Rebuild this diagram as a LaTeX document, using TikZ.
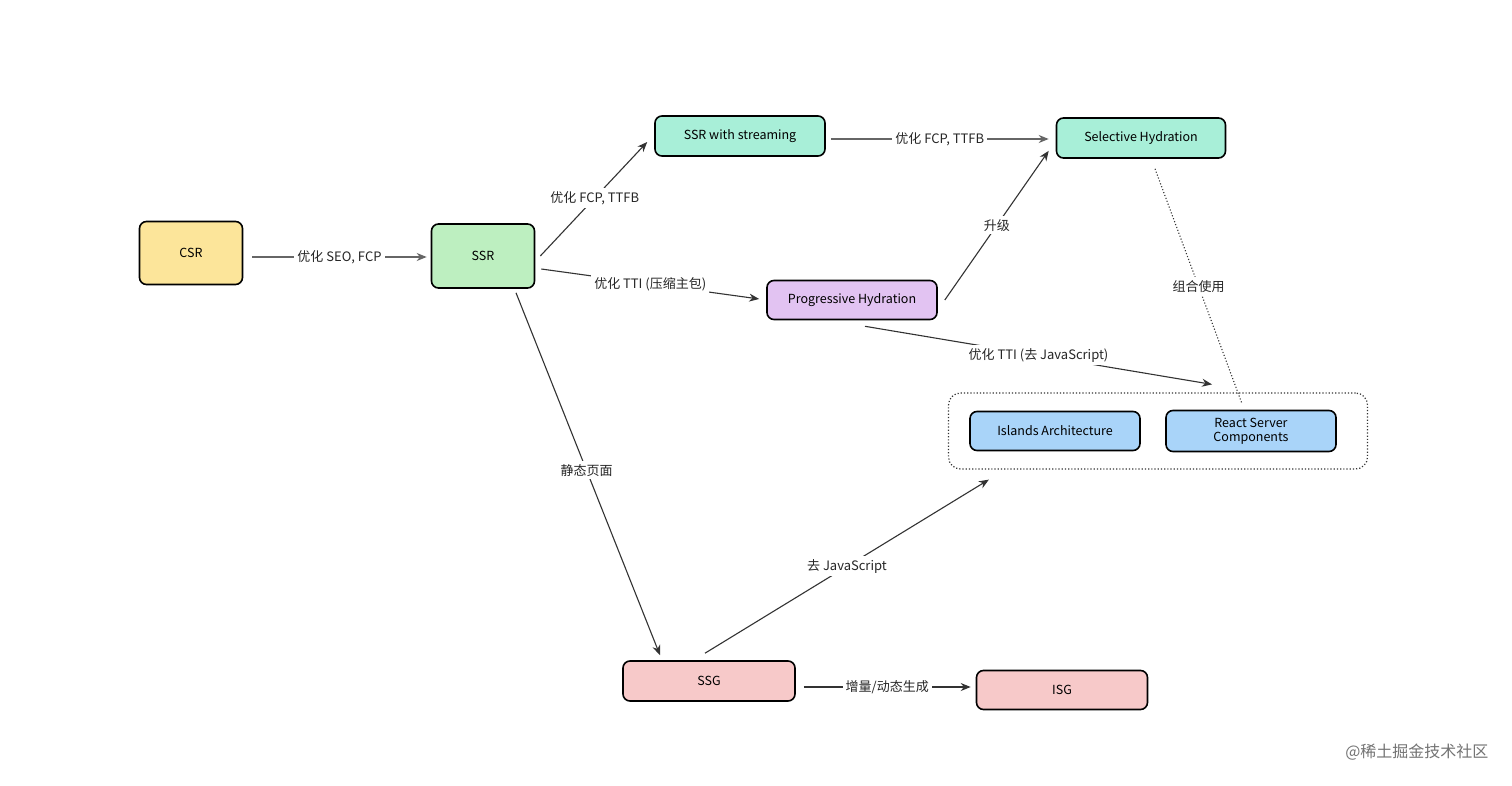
\documentclass[tikz,border=0pt]{standalone}
\usepackage{fontspec}
\setmainfont{Noto Sans CJK SC}
\usetikzlibrary{arrows.meta,calc}
\definecolor{cYellow}{HTML}{FCE59A}
\definecolor{cGreen}{HTML}{BDEFC0}
\definecolor{cTeal}{HTML}{A8EFD8}
\definecolor{cPurple}{HTML}{E2C3F2}
\definecolor{cBlue}{HTML}{A9D4F9}
\definecolor{cPink}{HTML}{F7C9C9}
\definecolor{cLine}{HTML}{333333}
\tikzset{
  box/.style={draw=black, line width=1.6pt, rounded corners=7pt, inner sep=0pt,
    font=\fontsize{12.5}{14}\selectfont, align=center},
  arr/.style={draw=cLine, line width=1.1pt, -{Stealth[length=10pt,width=8pt]}},
  garr/.style={draw=gray!80!black, line width=1.6pt, -{Stealth[length=10pt,width=8pt]}},
  lbl/.style={fill=white, inner sep=3pt, font=\fontsize{13}{15}\selectfont, text=black!85},
}
\begin{document}
\begin{tikzpicture}[x=1pt,y=-1pt]
\useasboundingbox[fill=white] (0,0) rectangle (1512,786);

\node[box, fill=cYellow, minimum width=103pt, minimum height=63pt] (csr) at (191,253) {CSR};
\node[box, fill=cGreen, minimum width=103pt, minimum height=64pt] (ssr) at (483,256) {SSR};
\node[box, fill=cTeal, minimum width=170pt, minimum height=40pt] (stream) at (740,136) {SSR with streaming};
\node[box, fill=cTeal, minimum width=169pt, minimum height=40pt] (sel) at (1141,138) {Selective Hydration};
\node[box, fill=cPurple, minimum width=170pt, minimum height=39pt] (prog) at (852,300) {Progressive Hydration};
\node[draw=black!80, dotted, line width=1.2pt, rounded corners=12pt, minimum width=419pt, minimum height=76pt] (grp) at (1158,431) {};
\node[box, fill=cBlue, minimum width=170pt, minimum height=39pt] (isl) at (1055,431) {Islands Architecture};
\node[box, fill=cBlue, minimum width=170pt, minimum height=41pt] (rsc) at (1251,431) {React Server\\Components};
\node[box, fill=cPink, minimum width=172pt, minimum height=40pt] (ssg) at (709,681) {SSG};
\node[box, fill=cPink, minimum width=171pt, minimum height=39pt] (isg) at (1062,690) {ISG};

% edges
\draw[garr] ($(csr.east)+(9,4)$) -- ($(ssr.west)+(-4,1)$)
  node[lbl, pos=0.5] {优化 SEO, FCP};
\draw[arr] ($(ssr.east)+(5,0)$) -- ($(stream.west)+(-7,6)$)
  node[lbl, pos=0.51] {优化 FCP, TTFB};
\draw[garr] ($(stream.east)+(5,3)$) -- ($(sel.west)+(-7,1)$)
  node[lbl, pos=0.5] {优化 FCP, TTFB};
\draw[arr] ($(ssr.east)+(6,13)$) -- ($(prog.west)+(-7,-1)$)
  node[lbl, pos=0.5] {优化 TTI (压缩主包)};
\draw[arr] ($(prog.east)+(7,0)$) -- ($(sel.south west)+(-7,-8)$)
  node[lbl, pos=0.5] {升级};
\draw[arr] ($(prog.south)+(13,6)$) -- ($(grp.north)+(54,-8)$)
  node[lbl, pos=0.5] {优化 TTI (去 JavaScript)};
\draw[cLine, dotted, line width=1.1pt] ($(sel.south)+(14,10)$) -- ($(rsc.north)+(-9,-6)$)
  node[lbl, pos=0.5] {组合使用};
\draw[arr] ($(ssr.south)+(33,4)$) -- ($(ssg.north)+(-49,-5)$)
  node[lbl, pos=0.49] {静态页面};
\draw[arr] ($(ssg.north)+(-4,-7)$) -- ($(grp.south west)+(41,10)$)
  node[lbl, pos=0.5] {去 JavaScript};
\draw[arr] ($(ssg.east)+(8,6)$) -- ($(isg.west)+(-5,-3)$)
  node[lbl, pos=0.5] {增量/动态生成};

\node[text=black!55, font=\fontsize{16}{18}\selectfont, anchor=east] (wm) at (1492,752) {@稀土掘金技术社区};
\end{tikzpicture}
\end{document}
